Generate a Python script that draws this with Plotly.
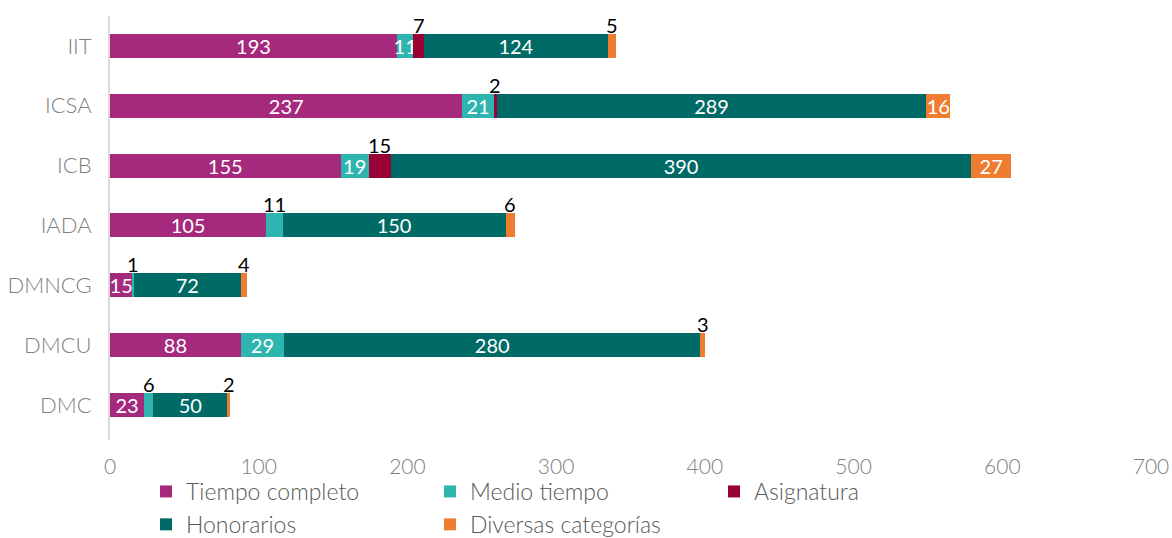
import plotly.graph_objects as go

categories = ["IIT", "ICSA", "ICB", "IADA", "DMNCG", "DMCU", "DMC"]
tiempo_completo = [193, 237, 155, 105, 15, 88, 23]
medio_tiempo = [11, 21, 19, 11, 1, 29, 6]
asignatura = [7, 2, 15, 0, 0, 0, 0]
honorarios = [124, 289, 390, 150, 72, 280, 50]
diversas = [5, 16, 27, 6, 4, 3, 2]

series_names = ["Tiempo completo", "Medio tiempo", "Asignatura", "Honorarios", "Diversas categorías"]
series_values = [tiempo_completo, medio_tiempo, asignatura, honorarios, diversas]
colors = ["#A52A7D", "#2EB5AF", "#990033", "#006B66", "#EE7D31"]
legend_ids = ["legend", "legend2", "legend3", "legend", "legend2"]

# 1 = value label shown above the bar instead of inside the segment
label_above = [
    [0, 0, 0, 0, 0, 0, 0],
    [0, 0, 0, 1, 1, 0, 1],
    [1, 1, 1, 0, 0, 0, 0],
    [0, 0, 0, 0, 0, 0, 0],
    [1, 0, 0, 1, 1, 1, 1],
]

x_ticks = [0, 100, 200, 300, 400, 500, 600, 700]

FONT = "Lato"
fig = go.Figure()
annotations = []
base = [0] * len(categories)
for name, vals, col, lg, above in zip(series_names, series_values, colors, legend_ids, label_above):
    texts = [str(v) if (v > 0 and not a) else "" for v, a in zip(vals, above)]
    fig.add_trace(go.Bar(
        y=categories, x=vals, name=name, orientation="h",
        marker=dict(color=col, line=dict(width=0)),
        text=texts, textposition="inside", insidetextanchor="middle",
        textangle=0, constraintext="none",
        textfont=dict(color="white", size=20, family=FONT),
        legend=lg, hoverinfo="x+name",
    ))
    for i, (v, a) in enumerate(zip(vals, above)):
        if a and v > 0:
            annotations.append(dict(
                x=base[i] + v / 2, y=categories[i], xref="x", yref="y",
                text=str(v), showarrow=False, yanchor="bottom", yshift=7,
                font=dict(color="black", size=20, family=FONT),
            ))
    base = [b + v for b, v in zip(base, vals)]

legend_common = dict(
    orientation="v", yref="container", yanchor="top", y=0.1264,
    xanchor="left", traceorder="normal",
    font=dict(size=23, family=FONT, color="#595959", weight=300),
    bgcolor="rgba(0,0,0,0)", itemwidth=30, tracegroupgap=0,
)

fig.update_layout(
    barmode="stack",
    bargap=0.6,
    width=1172, height=538,
    margin=dict(l=110, r=21, t=16, b=98, autoexpand=False),
    plot_bgcolor="white", paper_bgcolor="white",
    font=dict(family=FONT),
    xaxis=dict(
        range=[0, 700], tickvals=x_ticks, showgrid=False, zeroline=False,
        showline=False, ticks="", ticklabelstandoff=12,
        ticklabeloverflow="allow",
        tickfont=dict(size=21, color="#808080", family=FONT, weight=300),
    ),
    yaxis=dict(
        autorange="reversed", showgrid=False, zeroline=False,
        showline=True, linecolor="#D9D9D9", linewidth=2, ticks="",
        ticklabelstandoff=12,
        tickfont=dict(size=22, color="#808080", family=FONT, weight=300),
    ),
    legend=dict(x=0.0346, **legend_common),
    legend2=dict(x=0.3074, **legend_common),
    legend3=dict(x=0.5802, **legend_common),
    annotations=annotations,
    showlegend=True,
)

fig.write_html(
    "out.html",
    config={"displayModeBar": False},
    post_script="document.body.style.margin='0';",
)
